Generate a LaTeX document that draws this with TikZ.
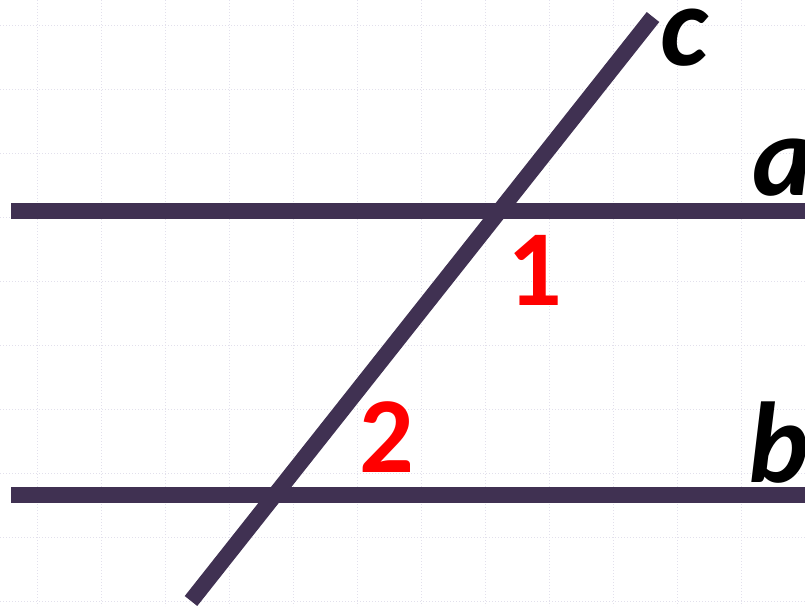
\documentclass[tikz,border=0pt]{standalone}
\usepackage{fontspec}
\setmainfont{Carlito}
\usetikzlibrary{positioning}
\definecolor{linecol}{RGB}{64,49,82}
\definecolor{gridcol}{RGB}{226,224,236}
\definecolor{anglecol}{RGB}{255,0,0}
\tikzset{
  gridline/.style={draw=gridcol,line width=1pt,dotted},
  thickline/.style={draw=linecol,line width=16pt},
  linelabel/.style={inner sep=0pt,anchor=base west,font=\fontsize{115}{115}\selectfont\bfseries\itshape},
  anglelabel/.style={inner sep=0pt,anchor=base west,text=anglecol,font=\fontsize{108}{108}\selectfont\bfseries}
}
\begin{document}
\begin{tikzpicture}[x=1pt,y=-1pt]
\useasboundingbox[fill=white] (0,0) rectangle (805,606);
% background grid
\foreach \gx in {37,101,...,805} \draw[gridline] (\gx,0)--(\gx,606);
\foreach \gy in {25,89,...,606} \draw[gridline] (0,\gy)--(805,\gy);
% parallel lines and transversal
\coordinate (aL) at (11,210.5);
\coordinate (aR) at (805,210.5);
\coordinate (bL) at (11,495);
\coordinate (bR) at (805,495);
\coordinate (cB) at (191,601);
\coordinate (cT) at (653,17);
\draw[thickline] (aL)--(aR);
\draw[thickline] (bL)--(bR);
\draw[thickline] (cB)--(cT);
% labels
\node[linelabel] (labc) at (660,65) {c};
\node[linelabel] (laba) at (752,195) {a};
\node[linelabel] (labb) at (748,482) {b};
\node[anglelabel] (ang1) at (507,305) {1};
\node[anglelabel] (ang2) at (359,472) {2};
\end{tikzpicture}
\end{document}
